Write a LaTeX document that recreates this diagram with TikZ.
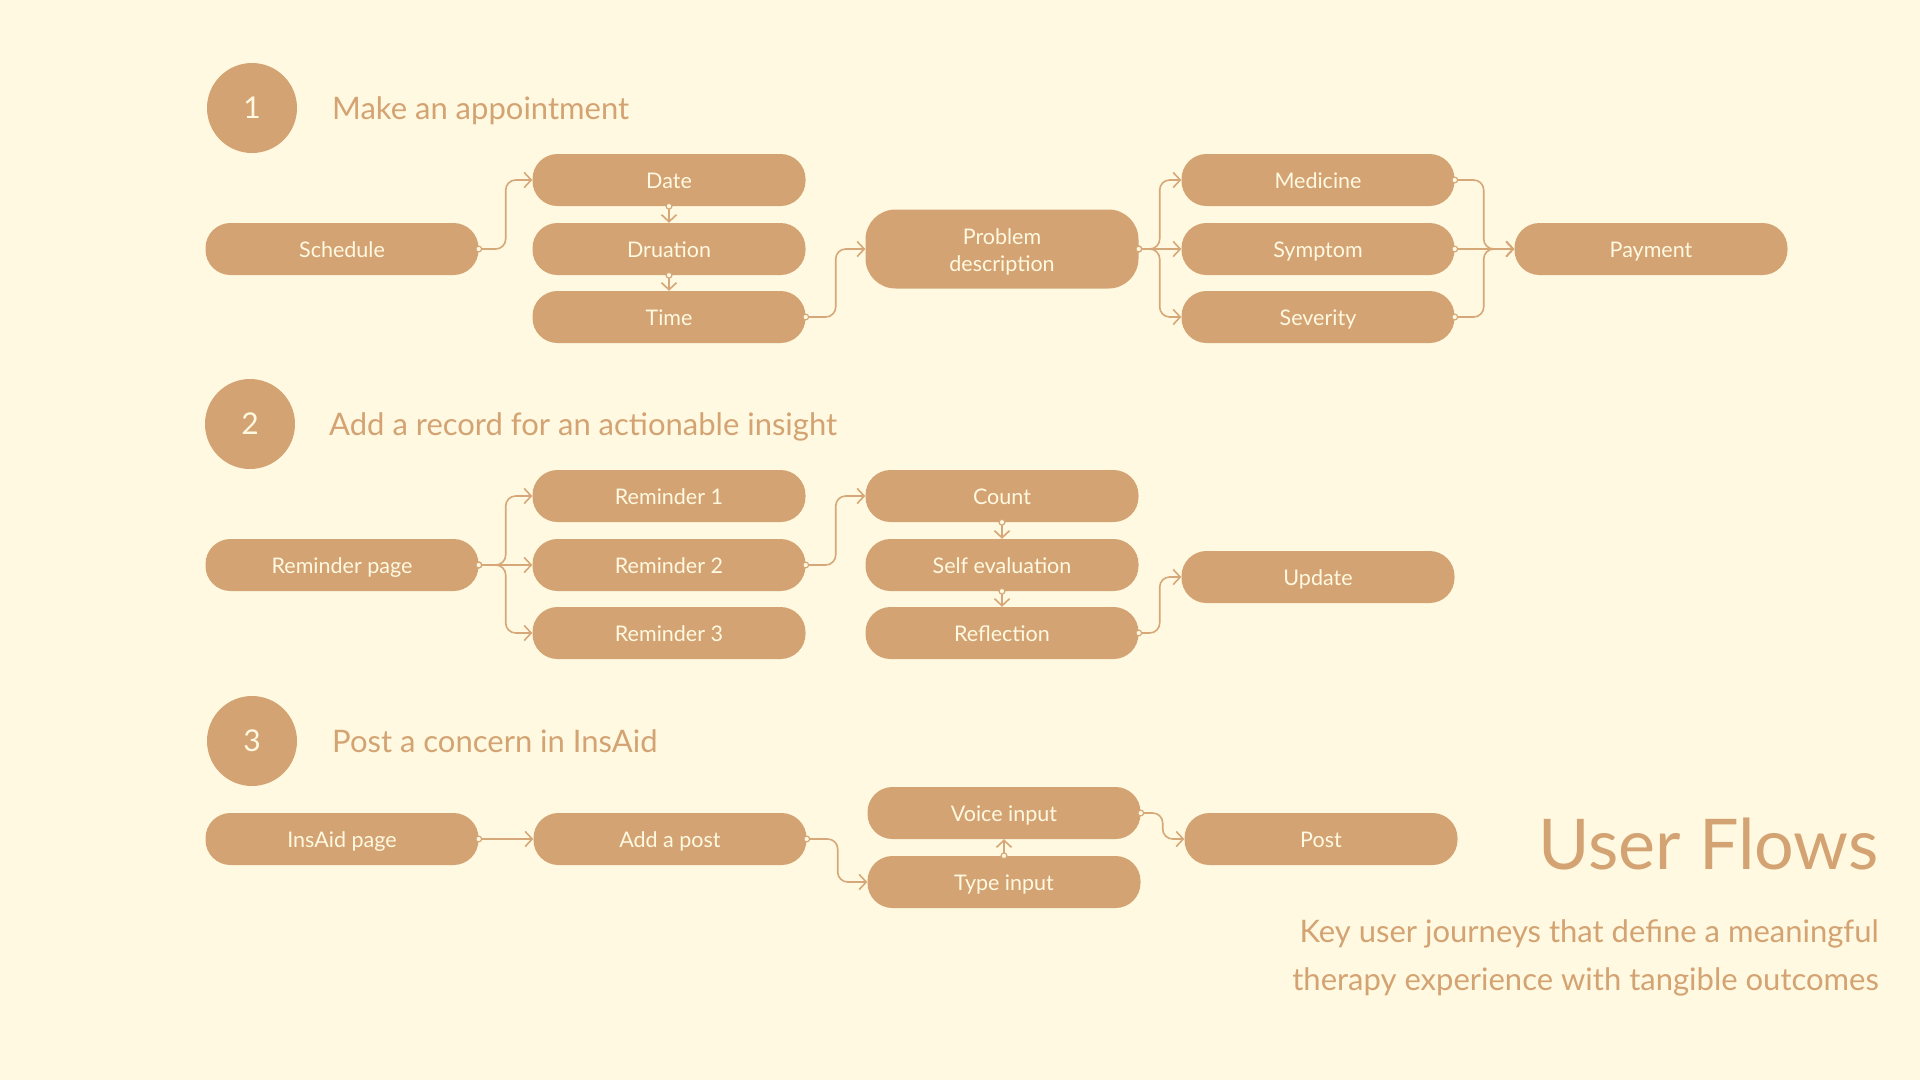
\documentclass[tikz,border=0pt]{standalone}
\usepackage{fontspec}
\setmainfont{Lato}
\usetikzlibrary{arrows.meta}
\definecolor{cream}{HTML}{FEF9E0}
\definecolor{tan}{HTML}{D4A373}
\definecolor{lnk}{HTML}{D6A778}
\tikzset{
  pill/.style={fill=tan, rounded corners=25pt, minimum width=273pt, minimum height=52pt,
    text=cream, font=\fontsize{21.5}{27}\selectfont, align=center, inner sep=0pt,
    text height=17.5pt, text depth=0pt},
  bigpill/.style={fill=tan, rounded corners=30pt, minimum width=273pt, minimum height=79pt, inner sep=0pt},
  pilltext/.style={text=cream, font=\fontsize{21.5}{27}\selectfont, align=center, inner sep=0pt},
  conn/.style={draw=lnk, line width=1.6pt, rounded corners=10pt, shorten <=-3.5pt,
    {Circle[length=7pt,width=7pt,fill=cream,line width=1.2pt]}-{Straight Barb[length=7pt,width=15pt]}},
  num/.style={circle, fill=tan, minimum size=90pt, inner sep=0pt, text=cream,
    font=\fontsize{30}{36}\selectfont},
  ttl/.style={anchor=base west, text=tan, font=\fontsize{31}{37}\selectfont, inner sep=0pt},
  side/.style={anchor=base east, text=tan, inner sep=0pt},
}
\begin{document}
\begin{tikzpicture}[x=1pt,y=-1pt]
\useasboundingbox (0,0) rectangle (1920,1080);
\fill[cream] (0,0) rectangle (1920,1080);

% ---------- Section 1
\node[num] (n1) at (252,108) {1};
\node[ttl] (t1) at (332,119.5) {Make an appointment};
\node[pill] (sched) at (342,249) {Schedule};
\node[pill] (date) at (669,180) {Date};
\node[pill] (dur) at (669,249) {Druation};
\node[pill] (time) at (669,317) {Time};
\node[bigpill, label={[pilltext, yshift=-2.5pt]center:Problem\\description}] (pd) at (1002,249) {};
\node[pill] (med) at (1318,180) {Medicine};
\node[pill] (sym) at (1318,249) {Symptom};
\node[pill] (sev) at (1318,317) {Severity};
\node[pill] (pay) at (1651,249) {Payment};

\draw[conn] (sched.east) -- ([xshift=27pt]sched.east) |- (date.west);
\draw[conn] (date.south) -- (dur.north);
\draw[conn] (dur.south) -- (time.north);
\draw[conn] (time.east) -- ([xshift=30pt]time.east) |- (pd.west);
\draw[conn] (pd.east) -- ([xshift=21pt]pd.east) |- (med.west);
\draw[conn] (pd.east) -- (sym.west);
\draw[conn] (pd.east) -- ([xshift=21pt]pd.east) |- (sev.west);
\draw[conn] (med.east) -- ([xshift=29pt]med.east) |- (pay.west);
\draw[conn] (sym.east) -- (pay.west);
\draw[conn] (sev.east) -- ([xshift=29pt]sev.east) |- (pay.west);

% ---------- Section 2
\node[num] (n2) at (250,424) {2};
\node[ttl] (t2) at (329,435.5) {Add a record for an actionable insight};
\node[pill] (rp) at (342,565) {Reminder page};
\node[pill] (r1) at (669,496) {Reminder 1};
\node[pill] (r2) at (669,565) {Reminder 2};
\node[pill] (r3) at (669,633) {Reminder 3};
\node[pill] (cnt) at (1002,496) {Count};
\node[pill] (se) at (1002,565) {Self evaluation};
\node[pill] (ref) at (1002,633) {Reflection};
\node[pill] (upd) at (1318,577) {Update};

\draw[conn] (rp.east) -- ([xshift=27pt]rp.east) |- (r1.west);
\draw[conn] (rp.east) -- (r2.west);
\draw[conn] (rp.east) -- ([xshift=27pt]rp.east) |- (r3.west);
\draw[conn] (r2.east) -- ([xshift=30pt]r2.east) |- (cnt.west);
\draw[conn] (cnt.south) -- (se.north);
\draw[conn] (se.south) -- (ref.north);
\draw[conn] (ref.east) -- ([xshift=21pt]ref.east) |- (upd.west);

% ---------- Section 3
\node[num] (n3) at (252,741) {3};
\node[ttl] (t3) at (332,752.5) {Post a concern in InsAid};
\node[pill] (ip) at (342,839) {InsAid page};
\node[pill] (ap) at (670,839) {Add a post};
\node[pill] (vi) at (1004,813) {Voice input};
\node[pill] (ti) at (1004,882) {Type input};
\node[pill] (post) at (1321,839) {Post};

\draw[conn] (ip.east) -- (ap.west);
\draw[conn] (ap.east) -- ([xshift=31pt]ap.east) |- (ti.west);
\draw[conn] (ti.north) -- (vi.south);
\draw[conn] (vi.east) -- ([xshift=22pt]vi.east) |- (post.west);

% ---------- Heading
\node[side, font=\fontsize{70}{78}\selectfont] (uf) at (1879,869) {User Flows};
\node[side, font=\fontsize{31}{37}\selectfont] (s1) at (1879,942) {Key user journeys that define a meaningful};
\node[side, font=\fontsize{31}{37}\selectfont] (s2) at (1879,990) {therapy experience with tangible outcomes};
\end{tikzpicture}
\end{document}
